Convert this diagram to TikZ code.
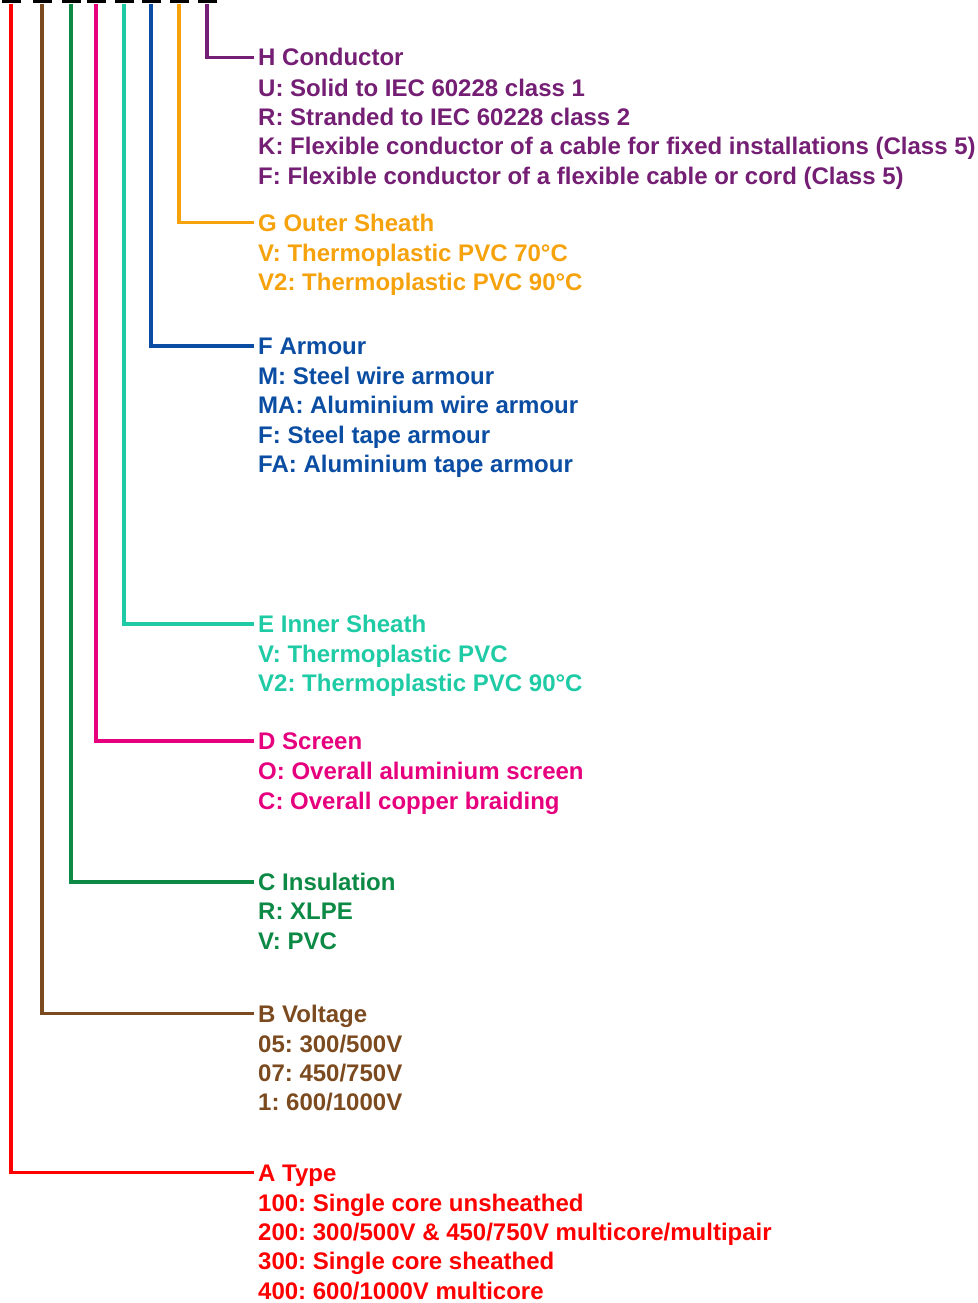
\documentclass[tikz,border=0pt]{standalone}
\usepackage{fontspec}
\setmainfont{Liberation Sans}
\usepackage{xcolor}
\usetikzlibrary{positioning}
\definecolor{typec}{HTML}{FF0000}
\definecolor{voltc}{HTML}{7B4A1F}
\definecolor{insc}{HTML}{0C8A45}
\definecolor{scrc}{HTML}{E6007E}
\definecolor{innc}{HTML}{1FCBA5}
\definecolor{armc}{HTML}{0A4DA2}
\definecolor{outc}{HTML}{F6A20D}
\definecolor{condc}{HTML}{741E74}
\frenchspacing

\begin{document}
\begin{tikzpicture}[x=1pt, y=-1pt, font=\fontsize{24}{29.3}\selectfont\bfseries,
  bar/.style={fill=black, minimum width=19pt, minimum height=3pt, inner sep=0pt},
  leg/.style={line width=3.2pt, shorten >=4pt},
  head/.style={anchor=west, inner sep=0pt, text height=17pt, text depth=0pt},
  opts/.style={below right=12.4pt and 0pt of #1.south west, inner sep=0pt, align=left}]
  \useasboundingbox (0,0) rectangle (977,1303);
  % top bars, one per letter
  \foreach \n/\x in {A/11, B/42, C/71, D/96, E/124, F/151, G/179, H/207}
    \node[bar] (t\n) at (\x,2) {};
  % headings and their options
  \node[head, text=condc] (hH) at (258,57.5) {H Conductor};
  \node[opts=hH, text=condc] (oH) {U: Solid to IEC 60228 class 1\\R: Stranded to IEC 60228 class 2\\K: Flexible conductor of a cable for fixed installations (Class 5)\\F: Flexible conductor of a flexible cable or cord (Class 5)};
  \node[head, text=outc] (hG) at (258,222.5) {G Outer Sheath};
  \node[opts=hG, text=outc] (oG) {V: Thermoplastic PVC 70°C\\V2: Thermoplastic PVC 90°C};
  \node[head, text=armc] (hF) at (258,346) {F Armour};
  \node[opts=hF, text=armc] (oF) {M: Steel wire armour\\MA: Aluminium wire armour\\F: Steel tape armour\\FA: Aluminium tape armour};
  \node[head, text=innc] (hE) at (258,624) {E Inner Sheath};
  \node[opts=hE, text=innc] (oE) {V: Thermoplastic PVC\\V2: Thermoplastic PVC 90°C};
  \node[head, text=scrc] (hD) at (258,741) {D Screen};
  \node[opts=hD, text=scrc] (oD) {O: Overall aluminium screen\\C: Overall copper braiding};
  \node[head, text=insc] (hC) at (258,882) {C Insulation};
  \node[opts=hC, text=insc] (oC) {R: XLPE\\V: PVC};
  \node[head, text=voltc] (hB) at (258,1013.5) {B Voltage};
  \node[opts=hB, text=voltc] (oB) {05: 300/500V\\07: 450/750V\\1: 600/1000V};
  \node[head, text=typec] (hA) at (258,1172.5) {A Type};
  \node[opts=hA, text=typec] (oA) {100: Single core unsheathed\\200: 300/500V \& 450/750V multicore/multipair\\300: Single core sheathed\\400: 600/1000V multicore};
  % legs from bars to headings
  \foreach \n/\c in {A/typec, B/voltc, C/insc, D/scrc, E/innc, F/armc, G/outc, H/condc}
    \draw[leg, \c] (t\n.south) |- (h\n.west);
\end{tikzpicture}
\end{document}
